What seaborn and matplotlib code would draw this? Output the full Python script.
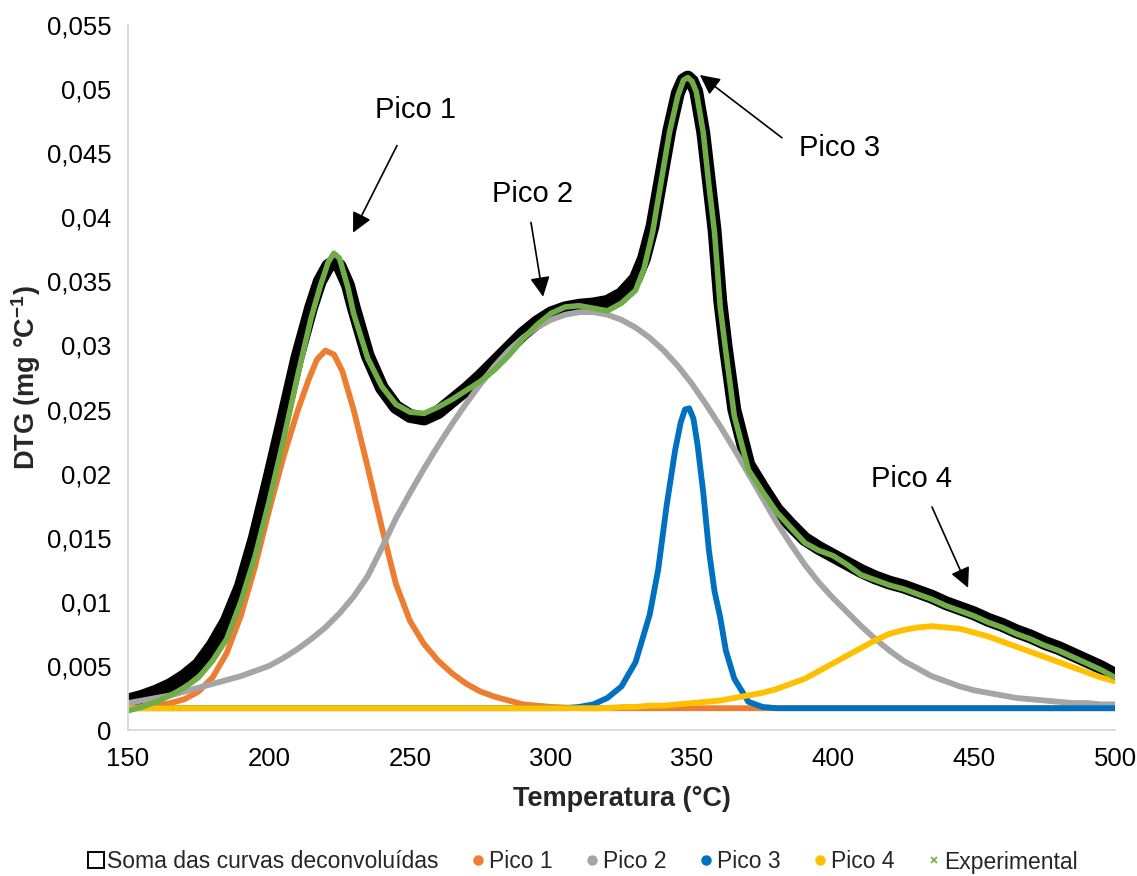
import numpy as np
import pandas as pd
import matplotlib
matplotlib.use("Agg")
import matplotlib.pyplot as plt
from matplotlib.lines import Line2D
from matplotlib.ticker import FuncFormatter, MultipleLocator
import seaborn as sns

# ---------------- data ----------------
temp_grid = [150, 155, 160, 165, 170, 175, 180, 185, 190, 195, 200, 205, 210, 215, 220, 225,
             230, 235, 240, 245, 250, 255, 260, 265, 270, 275, 280, 285, 290, 295, 300, 305,
             310, 315, 320, 325, 330, 335, 340, 345, 350, 355, 360, 365, 370, 375, 380, 385,
             390, 395, 400, 405, 410, 415, 420, 425, 430, 435, 440, 445, 450, 455, 460, 465,
             470, 475, 480, 485, 490, 495, 500]

temp_p1 = [150, 155, 160, 165, 170, 175, 180, 185, 190, 195, 200, 205, 210, 214, 217, 220,
           223, 226, 230, 235, 240, 245, 250, 255, 260, 265, 270, 275, 280, 285, 290, 295,
           300, 310, 350, 400, 450, 500]
pico1 = [0.0017, 0.0018, 0.0019, 0.0021, 0.0024, 0.0030, 0.0041, 0.0060, 0.0089, 0.0127,
         0.0171, 0.0212, 0.0248, 0.0273, 0.0289, 0.0296, 0.0293, 0.0280, 0.0250, 0.0205,
         0.0158, 0.0114, 0.0085, 0.0067, 0.0054, 0.0044, 0.0036, 0.0030, 0.0026, 0.0023,
         0.0020, 0.0019, 0.0018, 0.0017, 0.0017, 0.0017, 0.0017, 0.0017]

pico2 = [0.0021, 0.0023, 0.0025, 0.0027, 0.0030, 0.0033, 0.0036, 0.0039, 0.0042, 0.0046,
         0.0050, 0.0056, 0.0063, 0.0071, 0.0080, 0.0091, 0.0104, 0.0120, 0.0142, 0.0165,
         0.0185, 0.0204, 0.0222, 0.0239, 0.0255, 0.0270, 0.0284, 0.0296, 0.0306, 0.0314,
         0.0320, 0.0324, 0.0326, 0.0326, 0.0324, 0.0320, 0.0314, 0.0306, 0.0296, 0.0284,
         0.0270, 0.0254, 0.0237, 0.0219, 0.0200, 0.0181, 0.0162, 0.0145, 0.0129, 0.0115,
         0.0103, 0.0092, 0.0081, 0.0071, 0.0062, 0.0054, 0.0048, 0.0042, 0.0038, 0.0034,
         0.0031, 0.0029, 0.0027, 0.0025, 0.0024, 0.0023, 0.0022, 0.0021, 0.0021, 0.0020,
         0.0020]

temp_p3 = [150, 200, 250, 300, 305, 310, 315, 320, 325, 330, 335, 338, 341, 344, 346, 347.5,
           349, 350.5, 352, 354, 356, 358, 360, 362, 365, 370, 375, 380, 400, 450, 500]
pico3 = [0.0017, 0.0017, 0.0017, 0.0017, 0.0017, 0.0018, 0.0020, 0.0025, 0.0034, 0.0053,
         0.0090, 0.0125, 0.0175, 0.0218, 0.0240, 0.0250, 0.0251, 0.0243, 0.0222, 0.0185,
         0.0140, 0.0108, 0.0088, 0.0062, 0.0040, 0.0022, 0.0018, 0.0017, 0.0017, 0.0017,
         0.0017]

pico4 = [0.0017, 0.0017, 0.0017, 0.0017, 0.0017, 0.0017, 0.0017, 0.0017, 0.0017, 0.0017,
         0.0017, 0.0017, 0.0017, 0.0017, 0.0017, 0.0017, 0.0017, 0.0017, 0.0017, 0.0017,
         0.0017, 0.0017, 0.0017, 0.0017, 0.0017, 0.0017, 0.0017, 0.0017, 0.0017, 0.0017,
         0.0017, 0.0017, 0.0017, 0.0017, 0.0017, 0.0018, 0.0018, 0.0019, 0.0019, 0.0020,
         0.0021, 0.0022, 0.0023, 0.0025, 0.0027, 0.0029, 0.0032, 0.0036, 0.0040, 0.0046,
         0.0052, 0.0058, 0.0064, 0.0070, 0.0075, 0.0078, 0.0080, 0.0081, 0.0080, 0.0079,
         0.0076, 0.0073, 0.0069, 0.0065, 0.0061, 0.0057, 0.0053, 0.0049, 0.0045, 0.0041,
         0.0038]

temp_fit = [150, 155, 160, 165, 170, 175, 180, 185, 190, 195, 200, 205, 210, 215, 218, 221,
            223, 225, 228, 230, 235, 240, 245, 250, 255, 260, 265, 270, 275, 280, 285, 290,
            295, 300, 305, 310, 315, 320, 325, 330, 333, 336, 340, 342, 345, 347, 348.5, 350,
            351.5, 354, 356, 358, 360, 362, 365, 370, 375, 380, 385, 390, 395, 400, 405, 410,
            415, 420, 425, 430, 435, 440, 445, 450, 455, 460, 465, 470, 475, 480, 485, 490,
            495, 500]

soma = [0.0023, 0.0026, 0.0030, 0.0035, 0.0042, 0.0051, 0.0066, 0.0085, 0.0112, 0.0150,
        0.0195, 0.0242, 0.0290, 0.0330, 0.0350, 0.0362, 0.0365, 0.0362, 0.0347, 0.0330,
        0.0292, 0.0267, 0.0252, 0.0245, 0.0243, 0.0248, 0.0257, 0.0266, 0.0276, 0.0287,
        0.0298, 0.0309, 0.0318, 0.0325, 0.0329, 0.0331, 0.0332, 0.0334, 0.0340, 0.0352,
        0.0368, 0.0393, 0.0443, 0.0468, 0.0497, 0.0507, 0.0509, 0.0506, 0.0498, 0.0466,
        0.0428, 0.0390, 0.0335, 0.0298, 0.0250, 0.0207, 0.0189, 0.0172, 0.0160, 0.0149,
        0.0142, 0.0136, 0.0130, 0.0124, 0.0119, 0.0115, 0.0112, 0.0108, 0.0104, 0.0099,
        0.0095, 0.0091, 0.0086, 0.0082, 0.0077, 0.0073, 0.0068, 0.0064, 0.0059, 0.0054,
        0.0049, 0.0043]

experimental = [0.0015, 0.0018, 0.0022, 0.0027, 0.0033, 0.0041, 0.0054, 0.0071, 0.0100, 0.0135,
                0.0178, 0.0225, 0.0275, 0.0322, 0.0345, 0.0365, 0.0372, 0.0368, 0.0345, 0.0325,
                0.0290, 0.0268, 0.0254, 0.0248, 0.0247, 0.0252, 0.0258, 0.0265, 0.0272, 0.0281,
                0.0292, 0.0305, 0.0316, 0.0325, 0.0330, 0.0331, 0.0329, 0.0327, 0.0333, 0.0343,
                0.0360, 0.0388, 0.0440, 0.0466, 0.0495, 0.0507, 0.0509, 0.0506, 0.0498, 0.0466,
                0.0425, 0.0388, 0.0330, 0.0295, 0.0245, 0.0203, 0.0186, 0.0170, 0.0158, 0.0146,
                0.0140, 0.0136, 0.0129, 0.0121, 0.0117, 0.0113, 0.0110, 0.0106, 0.0102, 0.0097,
                0.0093, 0.0089, 0.0084, 0.0080, 0.0075, 0.0071, 0.0066, 0.0062, 0.0057, 0.0052,
                0.0047, 0.0041]

series_names = ["Soma das curvas deconvoluídas", "Pico 1", "Pico 2", "Pico 3", "Pico 4", "Experimental"]
x_ticks = [150, 200, 250, 300, 350, 400, 450, 500]

peak_labels = ["Pico 1", "Pico 2", "Pico 3", "Pico 4"]
label_xy = [(251.8, 0.0484), (293.6, 0.0418), (402.5, 0.0454), (427.7, 0.0196)]
arrow_tail = [(245.4, 0.0456), (292.9, 0.0396), (381.9, 0.0462), (435.1, 0.0174)]
arrow_tip = [(229.8, 0.0388), (297.2, 0.0338), (352.8, 0.0511), (447.9, 0.0111)]

# ---------------- style ----------------
sns.set_theme(style="white")
plt.rcParams["font.family"] = ["Liberation Sans", "DejaVu Sans"]
plt.rcParams["mathtext.fontset"] = "custom"
plt.rcParams["mathtext.rm"] = "Liberation Sans"
plt.rcParams["mathtext.bf"] = "Liberation Sans:bold"

c_soma, c_p1, c_p2, c_p3, c_p4, c_exp = "#000000", "#ED7D31", "#A5A5A5", "#0070C0", "#FFC000", "#70AD47"

fig = plt.figure(figsize=(11.37, 8.76), dpi=100)
ax = fig.add_axes([128 / 1137, 1 - 730 / 876, (1115 - 128) / 1137, (730 - 25) / 876])

df_p1 = pd.DataFrame({"T": temp_p1, "p1": pico1})
df_grid = pd.DataFrame({"T": temp_grid, "p2": pico2, "p4": pico4})
df_p3 = pd.DataFrame({"T": temp_p3, "p3": pico3})
df_fit = pd.DataFrame({"T": temp_fit, "soma": soma, "exp": experimental})

kw = dict(sort=False, legend=False, solid_capstyle="round", solid_joinstyle="round")
sns.lineplot(data=df_fit, x="T", y="soma", ax=ax, color=c_soma, linewidth=10, **kw)
sns.lineplot(data=df_p1, x="T", y="p1", ax=ax, color=c_p1, linewidth=4.2, **kw)
sns.lineplot(data=df_grid, x="T", y="p2", ax=ax, color=c_p2, linewidth=4.2, **kw)
sns.lineplot(data=df_p3, x="T", y="p3", ax=ax, color=c_p3, linewidth=4.2, **kw)
sns.lineplot(data=df_grid, x="T", y="p4", ax=ax, color=c_p4, linewidth=4.2, **kw)
sns.lineplot(data=df_fit, x="T", y="exp", ax=ax, color=c_exp, linewidth=4.0, **kw)

ax.set_xlim(150, 500)
ax.set_ylim(0, 0.055)
ax.set_xticks(x_ticks)
ax.yaxis.set_major_locator(MultipleLocator(0.005))
ax.yaxis.set_major_formatter(FuncFormatter(lambda v, p: "0" if abs(v) < 1e-12 else f"{v:.3f}".rstrip("0").replace(".", ",")))

for side in ["top", "right"]:
    ax.spines[side].set_visible(False)
for side in ["left", "bottom"]:
    ax.spines[side].set_color("#D9D9D9")
    ax.spines[side].set_linewidth(1.3)
ax.tick_params(axis="both", length=0, labelsize=18.5, labelcolor="#000000")
ax.tick_params(axis="y", pad=12)
ax.tick_params(axis="x", pad=12)

ax.set_xlabel("Temperatura (°C)", fontsize=19.5, fontweight="bold", labelpad=11)
ax.set_ylabel(r"DTG (mg °C$^{\mathbf{-1}}$)", fontsize=19.5, fontweight="bold", labelpad=3)

for lab, txy, tail, tip in zip(peak_labels, label_xy, arrow_tail, arrow_tip):
    ax.text(txy[0], txy[1], lab, fontsize=21, ha="center", va="center", color="black")
    ax.annotate("", xy=tip, xytext=tail,
                arrowprops=dict(arrowstyle="-|>", color="black", lw=1.2, mutation_scale=30,
                                shrinkA=0, shrinkB=0))

handles = [
    Line2D([], [], linestyle="none", marker="s", markersize=11, markerfacecolor="white",
           markeredgecolor="black", markeredgewidth=1.4),
    Line2D([], [], linestyle="none", marker="o", markersize=6.5, color=c_p1),
    Line2D([], [], linestyle="none", marker="o", markersize=6.5, color=c_p2),
    Line2D([], [], linestyle="none", marker="o", markersize=6.5, color=c_p3),
    Line2D([], [], linestyle="none", marker="o", markersize=6.5, color=c_p4),
    Line2D([], [], linestyle="none", marker="x", markersize=5, color=c_exp, markeredgewidth=1.2),
]
fig.legend(handles, series_names, loc="center", bbox_to_anchor=(0.512, 1 - 862 / 876), ncol=6,
           frameon=False, fontsize=16.5, handletextpad=0.0, columnspacing=1.3, handlelength=0.9)

fig.savefig("out.png", dpi=100)
